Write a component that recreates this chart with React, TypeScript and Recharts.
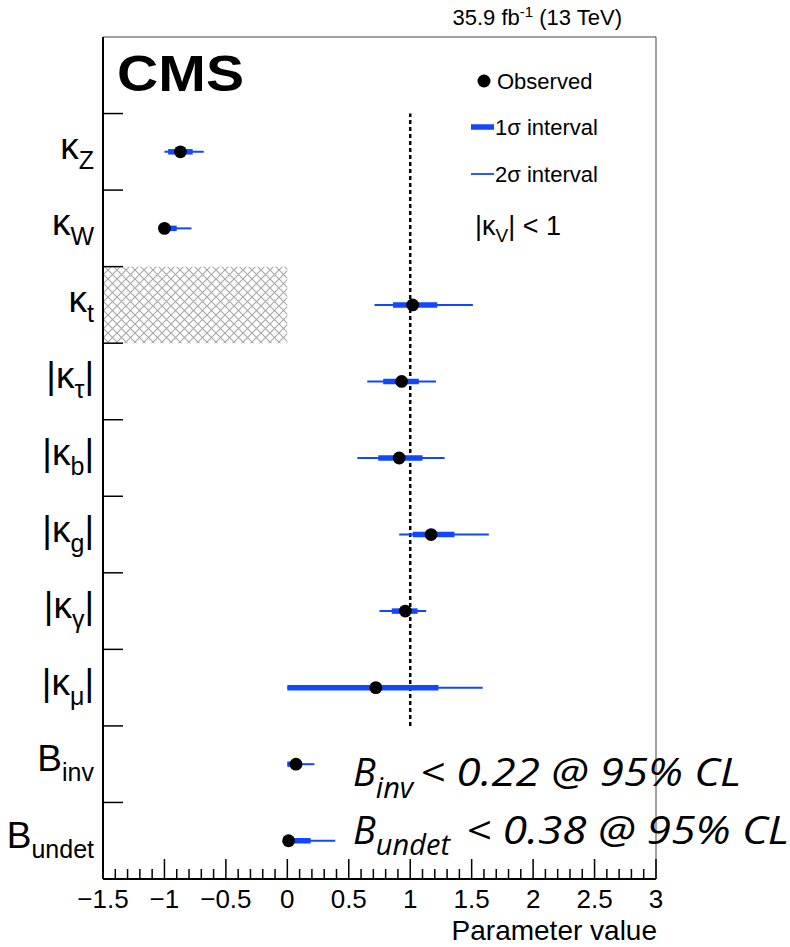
import React from 'react';
import { ComposedChart, Scatter, XAxis, YAxis, ReferenceLine, ReferenceArea } from 'recharts';

// ---- data ----
const labelMain = ['κ', 'κ', 'κ', 'κ', 'κ', 'κ', 'κ', 'κ', 'B', 'B'];
const labelSub = ['Z', 'W', 't', 'τ', 'b', 'g', 'γ', 'μ', 'inv', 'undet'];
const labelAbs = [false, false, false, true, true, true, true, true, false, false];
const rowPos = [9.5, 8.5, 7.5, 6.5, 5.5, 4.5, 3.5, 2.5, 1.5, 0.5];
const observed = [-0.87, -1.0, 1.02, 0.93, 0.91, 1.17, 0.96, 0.72, 0.07, 0.01];
const lo1 = [-0.97, -1.0, 0.86, 0.78, 0.74, 1.02, 0.85, 0.0, 0.0, 0.0];
const hi1 = [-0.77, -0.9, 1.22, 1.07, 1.1, 1.36, 1.06, 1.23, 0.12, 0.19];
const lo2 = [-1.0, -1.0, 0.71, 0.65, 0.57, 0.91, 0.75, 0.0, 0.0, 0.0];
const hi2 = [-0.68, -0.78, 1.51, 1.21, 1.28, 1.64, 1.13, 1.59, 0.22, 0.39];
const majorTicks = [-1.5, -1, -0.5, 0, 0.5, 1, 1.5, 2, 2.5, 3];
const xTicks = Array.from({ length: 46 }, (_, i) => Math.round((-1.5 + i * 0.1) * 10) / 10);
const rowTicks = [1, 2, 3, 4, 5, 6, 7, 8, 9, 10];
const yTicks = [...rowPos, ...rowTicks].sort((a, b) => a - b);

const BLUE = '#1148ff';
const ROOTFONT = '"Liberation Sans", Arial, Helvetica, sans-serif';
const ANNFONT = '"Open Sans", sans-serif';
const X_DOMAIN: [number, number] = [-1.5, 3];
const Y_DOMAIN: [number, number] = [0, 11];

const fmt = (v: number) => (v < 0 ? '\u2212' + String(Math.abs(v)) : String(v));
const isMajor = (v: number) => majorTicks.some((m) => Math.abs(m - v) < 1e-6);

const XTick = (props: any) => {
  const { x, y, payload } = props;
  const major = isMajor(payload.value);
  return (
    <g>
      <line x1={x} x2={x} y1={y} y2={y - (major ? 20 : 10)} stroke="#000" strokeWidth={1.5} />
      {major ? (
        <text x={x} y={y + 29} textAnchor="middle" fontFamily={ROOTFONT} fontSize={26} fill="#000">
          {fmt(payload.value)}
        </text>
      ) : null}
    </g>
  );
};

const YTick = (props: any) => {
  const { x, y, payload } = props;
  if (rowTicks.includes(payload.value)) {
    return <line x1={x + 9} x2={x + 29} y1={y} y2={y} stroke="#000" strokeWidth={1.5} />;
  }
  const i = rowPos.indexOf(payload.value);
  if (i < 0) return <g />;
  const abs = labelAbs[i];
  return (
    <text x={x} y={y + 7} textAnchor="end" fontFamily={ROOTFONT} fontSize={37} fill="#000">
      {abs ? '|' : ''}
      {labelMain[i]}
      <tspan dy={10} fontSize={25}>{labelSub[i]}</tspan>
      {abs ? <tspan dy={-10}>|</tspan> : null}
    </text>
  );
};

export default function App() {
  return (
    <div style={{ position: 'absolute', left: 0, top: 0, width: 790, height: 947, background: '#fff' }}>
      <svg width={0} height={0} style={{ position: 'absolute' }}>
        <defs>
          <pattern id="hatch" width={9} height={9} patternUnits="userSpaceOnUse">
            <rect width={9} height={9} fill="#fff" />
            <path d="M0,0 L9,9 M9,0 L0,9" stroke="#aaaaaa" strokeWidth={1.2} />
          </pattern>
        </defs>
      </svg>
      <ComposedChart width={790} height={947} margin={{ top: 37, right: 134, bottom: 28, left: 0 }}>
        <XAxis xAxisId="main" dataKey="x" type="number" domain={X_DOMAIN} allowDataOverflow ticks={xTicks}
          interval={0} height={40} tickSize={0} tickMargin={0} tickLine={false} tick={<XTick />}
          axisLine={{ stroke: '#000', strokeWidth: 2 }} />
        <YAxis yAxisId="lab" dataKey="y" type="number" domain={Y_DOMAIN} allowDataOverflow ticks={yTicks}
          interval={0} width={103} tickSize={0} tickMargin={9} tickLine={false} tick={<YTick />}
          axisLine={{ stroke: '#000', strokeWidth: 2 }} />

        <ReferenceArea xAxisId="main" yAxisId="lab" x1={-1.5} x2={3} y1={0} y2={11}
          fill="none" stroke="#444" strokeWidth={1} ifOverflow="visible" />
        <ReferenceArea xAxisId="main" yAxisId="lab" x1={-1.5} x2={0} y1={7} y2={8}
          fill="url(#hatch)" fillOpacity={1} stroke="none" ifOverflow="visible" />

        {rowPos.map((y, i) => (
          <Scatter key={'two' + i} xAxisId="main" yAxisId="lab" isAnimationActive={false}
            data={[{ x: lo2[i], y }, { x: hi2[i], y }]}
            line={{ stroke: BLUE, strokeWidth: 2 }} lineType="joint" shape={() => <g />} legendType="none" />
        ))}
        {rowPos.map((y, i) => (
          <Scatter key={'one' + i} xAxisId="main" yAxisId="lab" isAnimationActive={false}
            data={[{ x: lo1[i], y }, { x: hi1[i], y }]}
            line={{ stroke: BLUE, strokeWidth: 5.5 }} lineType="joint" shape={() => <g />} legendType="none" />
        ))}

        <ReferenceLine xAxisId="main" yAxisId="lab" segment={[{ x: 1, y: 2 }, { x: 1, y: 10 }]}
          stroke="#000" strokeWidth={2.5} strokeDasharray="4 3" />

        <Scatter xAxisId="main" yAxisId="lab" isAnimationActive={false}
          data={rowPos.map((y, i) => ({ x: observed[i], y }))}
          shape={(p: any) => <circle cx={p.cx} cy={p.cy} r={6.4} fill="#000" />} legendType="none" />
      </ComposedChart>

      <svg width={790} height={947} style={{ position: 'absolute', left: 0, top: 0, pointerEvents: 'none' }}>
        <text x={622} y={25} textAnchor="end" fontFamily={ROOTFONT} fontSize={22} fill="#000">
          35.9 fb<tspan dy={-8} fontSize={15}>-1</tspan><tspan dy={8}> (13 TeV)</tspan>
        </text>
        <text x={117} y={91} fontFamily={ROOTFONT} fontWeight="bold" fontSize={50} fill="#000"
          textLength={127} lengthAdjust="spacingAndGlyphs">CMS</text>

        <circle cx={484} cy={81} r={6.5} fill="#000" />
        <text x={497} y={89} fontFamily={ROOTFONT} fontSize={22} fill="#000">Observed</text>
        <line x1={471} x2={494} y1={127} y2={127} stroke={BLUE} strokeWidth={5.5} />
        <text x={495} y={135} fontFamily={ROOTFONT} fontSize={22} fill="#000">1σ interval</text>
        <line x1={471} x2={494} y1={174} y2={174} stroke={BLUE} strokeWidth={1.8} />
        <text x={495} y={182} fontFamily={ROOTFONT} fontSize={22} fill="#000">2σ interval</text>
        <text x={475} y={235} fontFamily={ROOTFONT} fontSize={27} fill="#000">
          |κ<tspan dy={7} fontSize={19}>V</tspan><tspan dy={-7}>| &lt; 1</tspan>
        </text>

        <text x={657} y={940} textAnchor="end" fontFamily={ROOTFONT} fontSize={28} fill="#000">Parameter value</text>

        <text x={353} y={786} fontFamily={ANNFONT} fontStyle="italic" fontSize={38} fill="#000">
          B<tspan dy={12} fontSize={29}>inv</tspan>
        </text>
        <text x={420} y={786} fontFamily={ANNFONT} fontStyle="italic" fontSize={38} fill="#000"
          textLength={321} lengthAdjust="spacingAndGlyphs">&lt; 0.22 @ 95% CL</text>
        <text x={353} y={844} fontFamily={ANNFONT} fontStyle="italic" fontSize={38} fill="#000">
          B<tspan dy={11} fontSize={29}>undet</tspan>
        </text>
        <text x={466} y={844} fontFamily={ANNFONT} fontStyle="italic" fontSize={38} fill="#000"
          textLength={323} lengthAdjust="spacingAndGlyphs">&lt; 0.38 @ 95% CL</text>
      </svg>
    </div>
  );
}
